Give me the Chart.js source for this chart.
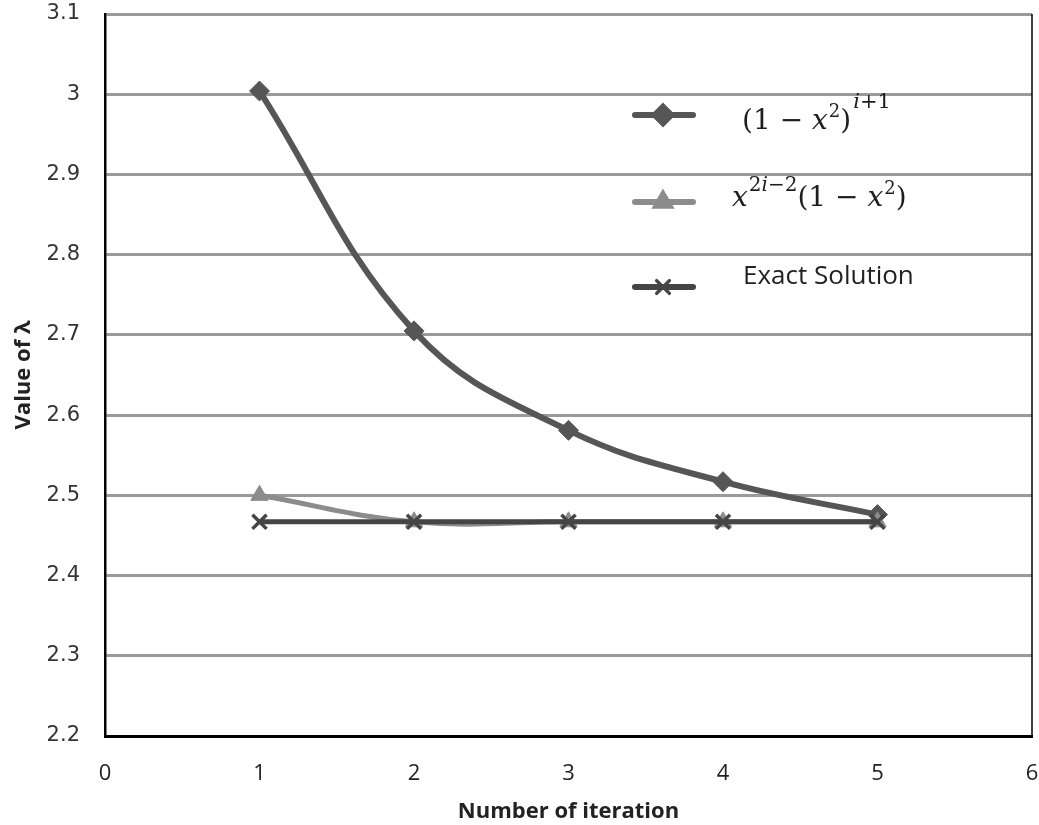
<!DOCTYPE html>
<html>
<head>
<meta charset="utf-8">
<script src="https://cdn.jsdelivr.net/npm/chart.js@4.4.1/dist/chart.umd.min.js"></script>
<style>
  html, body { margin: 0; padding: 0; background: #fff; }
  #wrap { width: 1039px; height: 825px; }
</style>
</head>
<body>
<div id="wrap"><canvas id="grafica" width="1039" height="825"></canvas></div>
<script>
// datos
const iteraciones = [1, 2, 3, 4, 5];
const serieUnoMenosX = [3.004, 2.705, 2.581, 2.517, 2.476];
const serieXPot = [2.500, 2.467, 2.467, 2.467, 2.467];
const solucionExacta = [2.467, 2.467, 2.467, 2.467, 2.467];
const ticksX = [0, 1, 2, 3, 4, 5, 6];
const ticksY = [2.2, 2.3, 2.4, 2.5, 2.6, 2.7, 2.8, 2.9, 3.0, 3.1];

const colorUno = '#565656';
const colorDos = '#8c8c8c';
const colorExacta = '#454545';

function puntos(valores) {
    return iteraciones.map((it, i) => ({ x: it, y: valores[i] }));
}

// leyenda dentro del area, con las formulas escritas a mano
const leyendaInterna = {
    id: 'leyendaInterna',
    afterDraw(chart) {
        const ctx = chart.ctx;
        const area = chart.chartArea;

        // borde derecho fino
        ctx.save();
        ctx.strokeStyle = '#000';
        ctx.lineWidth = 1.5;
        ctx.beginPath();
        ctx.moveTo(area.right, area.top);
        ctx.lineTo(area.right, area.bottom);
        ctx.stroke();
        ctx.restore();

        const x0 = 635, x1 = 693, xm = 663;
        const filas = [
            { y: 115, color: colorUno, estilo: 'rectRot', radio: 10 },
            { y: 202, color: colorDos, estilo: 'triangle', radio: 10 },
            { y: 287, color: colorExacta, estilo: 'crossRot', radio: 9 }
        ];
        filas.forEach(f => {
            ctx.save();
            ctx.strokeStyle = f.color;
            ctx.lineWidth = 6;
            ctx.lineCap = 'round';
            ctx.beginPath();
            ctx.moveTo(x0, f.y);
            ctx.lineTo(x1, f.y);
            ctx.stroke();
            ctx.fillStyle = f.color;
            ctx.lineWidth = 3.5;
            Chart.helpers.drawPoint(ctx, { pointStyle: f.estilo, radius: f.radio, borderWidth: 3.5 }, xm, f.y);
            ctx.restore();
        });

        const serif = '"DejaVu Serif"';
        const normal = s => `${s}px ${serif}`;
        const cursiva = s => `italic ${s}px ${serif}`;
        function escribir(partes, x, base) {
            ctx.save();
            ctx.fillStyle = '#1e1e1e';
            ctx.textBaseline = 'alphabetic';
            ctx.textAlign = 'left';
            partes.forEach(p => {
                ctx.font = p.f;
                ctx.fillText(p.t, x, base - (p.dy || 0));
                x += ctx.measureText(p.t).width + (p.gap || 0);
            });
            ctx.restore();
        }
        escribir([
            { t: '(1 \u2212 ', f: normal(28) },
            { t: 'x', f: cursiva(28), gap: 1 },
            { t: '2', f: normal(18), dy: 12 },
            { t: ')', f: normal(28), gap: 2 },
            { t: 'i', f: cursiva(21), dy: 21 },
            { t: '+1', f: normal(21), dy: 21 }
        ], 742, 129);
        escribir([
            { t: 'x', f: cursiva(28), gap: 1 },
            { t: '2', f: normal(20), dy: 15 },
            { t: 'i', f: cursiva(20), dy: 15 },
            { t: '\u22122', f: normal(20), dy: 15 },
            { t: '(1 \u2212 ', f: normal(28) },
            { t: 'x', f: cursiva(28), gap: 1 },
            { t: '2', f: normal(18), dy: 12 },
            { t: ')', f: normal(28) }
        ], 732, 206);

        ctx.save();
        ctx.fillStyle = '#222';
        ctx.font = '26px "Open Sans"';
        ctx.textBaseline = 'middle';
        ctx.fillText('Exact Solution', 743, 277);
        ctx.restore();
    }
};

const ctx = document.getElementById('grafica');

new Chart(ctx, {
    type: 'line',
    data: {
        datasets: [
            {
                label: '(1 - x^2)^(i+1)',
                data: puntos(serieUnoMenosX),
                borderColor: colorUno,
                backgroundColor: colorUno,
                borderWidth: 6,
                tension: 0.4,
                pointStyle: 'rectRot',
                pointRadius: 10,
                pointBorderWidth: 1,
                order: 3
            },
            {
                label: 'x^(2i-2)(1 - x^2)',
                data: puntos(serieXPot),
                borderColor: colorDos,
                backgroundColor: colorDos,
                borderWidth: 5,
                tension: 0.4,
                pointStyle: 'triangle',
                pointRadius: 10,
                pointBorderWidth: 1,
                order: 2
            },
            {
                label: 'Exact Solution',
                data: puntos(solucionExacta),
                borderColor: colorExacta,
                backgroundColor: colorExacta,
                borderWidth: 5,
                tension: 0,
                pointStyle: 'crossRot',
                pointRadius: 10,
                pointBorderWidth: 3.5,
                order: 1
            }
        ]
    },
    options: {
        responsive: false,
        animation: false,
        // sin autoPadding para que el area llegue hasta x=1032
        layout: { autoPadding: false, padding: { top: 14, right: 7, left: 0, bottom: 0 } },
        plugins: {
            legend: { display: false },
            tooltip: { enabled: false }
        },
        scales: {
            x: {
                type: 'linear',
                min: 0,
                max: 6,
                afterBuildTicks: scale => { scale.ticks = ticksX.map(v => ({ value: v })); },
                afterFit: scale => {
                    scale.height = 89;
                    scale.paddingLeft = 0;
                    scale.paddingRight = 0;
                },
                // la separacion de las etiquetas va en tickLength (marcas invisibles)
                grid: { display: true, drawOnChartArea: false, drawTicks: true, tickLength: 25, tickColor: 'rgba(0,0,0,0)' },
                border: { display: true, color: '#000', width: 3 },
                ticks: {
                    padding: 0,
                    color: '#222',
                    font: { family: '"Open Sans"', size: 22 }
                },
                title: {
                    display: true,
                    text: 'Number of iteration',
                    color: '#222',
                    padding: { top: 0, bottom: 0 },
                    font: { family: '"Open Sans"', size: 22, weight: 'bold' }
                }
            },
            y: {
                min: 2.2,
                max: 3.1,
                afterBuildTicks: scale => { scale.ticks = ticksY.map(v => ({ value: v })); },
                afterFit: scale => {
                    scale.width = 105;
                    scale.paddingTop = 0;
                    scale.paddingBottom = 0;
                },
                grid: { color: '#9a9a9a', lineWidth: 3, drawTicks: true, tickLength: 25, tickColor: 'rgba(0,0,0,0)' },
                border: { display: true, color: '#000', width: 2.5 },
                ticks: {
                    padding: 0,
                    color: '#333',
                    font: { family: '"DejaVu Sans"', size: 21 },
                    callback: v => String(Number(v.toFixed(1)))
                },
                title: {
                    display: true,
                    text: 'Value of \u03bb',
                    color: '#222',
                    padding: { top: 11, bottom: 0 },
                    font: { family: '"Open Sans"', size: 22, weight: 'bold' }
                }
            }
        }
    },
    plugins: [leyendaInterna]
});
</script>
</body>
</html>
